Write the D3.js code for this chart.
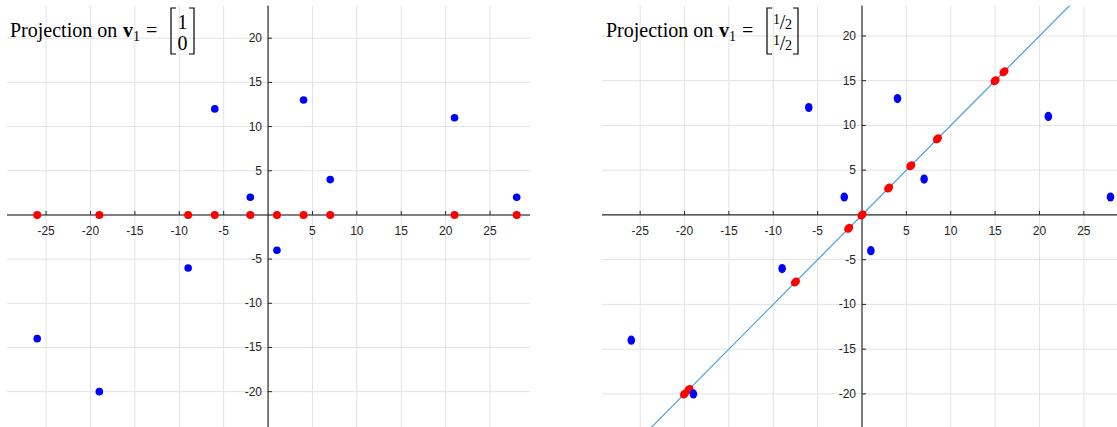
<!DOCTYPE html>
<html>
<head>
<meta charset="utf-8">
<script src="https://cdn.jsdelivr.net/npm/d3@7"></script>
<style>
  body { margin: 0; background: #fff; }
  svg { display: block; }
</style>
</head>
<body>
<div id="viz"></div>
<script>
// data
var pointsX = [-26, -19, -9, -6, -2, 1, 4, 7, 21, 28];
var pointsY = [-14, -20, -6, 12, 2, -4, 13, 4, 11, 2];

// projections on v1 = [1;0]
var projAX = [-26, -19, -9, -6, -2, 1, 4, 7, 21, 28];
var projAY = [0, 0, 0, 0, 0, 0, 0, 0, 0, 0];

// projections on v1 = [1/2;1/2]
var projBX = [-20, -19.5, -7.5, 3, 0, -1.5, 8.5, 5.5, 16, 15];
var projBY = [-20, -19.5, -7.5, 3, 0, -1.5, 8.5, 5.5, 16, 15];

// the span line of v1 in the second panel
var lineX = [-30, 30];
var lineY = [-30, 30];

var xTicks = [-25, -20, -15, -10, -5, 5, 10, 15, 20, 25];
var yTicks = [-20, -15, -10, -5, 5, 10, 15, 20];

var W = 1117, H = 427;
var svg = d3.select("#viz").append("svg")
  .attr("width", W).attr("height", H);

var tickFont = "'Liberation Sans', Arial, sans-serif";
var mathFont = "'Liberation Serif', 'DejaVu Serif', serif";

function drawPanel(p) {
  var x = d3.scaleLinear().domain(p.xDomain).range(p.xRange);
  var y = d3.scaleLinear().domain(p.yDomain).range(p.yRange);
  var g = svg.append("g");

  g.append("clipPath").attr("id", "clip" + p.id)
    .append("rect")
    .attr("x", p.xRange[0]).attr("y", p.yRange[1])
    .attr("width", p.xRange[1] - p.xRange[0])
    .attr("height", p.yRange[0] - p.yRange[1]);

  // grid
  g.selectAll(".vgrid").data(xTicks).join("line")
    .attr("x1", function(d) { return x(d); }).attr("x2", function(d) { return x(d); })
    .attr("y1", p.yRange[1]).attr("y2", p.yRange[0])
    .attr("stroke", "#e3e3e3").attr("stroke-width", 1);
  g.selectAll(".hgrid").data(yTicks).join("line")
    .attr("y1", function(d) { return y(d); }).attr("y2", function(d) { return y(d); })
    .attr("x1", p.xRange[0]).attr("x2", p.xRange[1])
    .attr("stroke", "#e3e3e3").attr("stroke-width", 1);

  // axes through the origin
  g.append("line")
    .attr("x1", p.xRange[0]).attr("x2", p.xRange[1])
    .attr("y1", y(0)).attr("y2", y(0))
    .attr("stroke", p.xAxisColor).attr("stroke-width", p.xAxisWidth);
  g.append("line")
    .attr("x1", x(0)).attr("x2", x(0))
    .attr("y1", p.yRange[1]).attr("y2", p.yRange[0])
    .attr("stroke", "#262626").attr("stroke-width", 1.2);

  // ticks
  g.selectAll(".xt").data(xTicks).join("line")
    .attr("x1", function(d) { return x(d); }).attr("x2", function(d) { return x(d); })
    .attr("y1", y(0)).attr("y2", y(0) - 4)
    .attr("stroke", "#262626");
  g.selectAll(".yt").data(yTicks).join("line")
    .attr("y1", function(d) { return y(d); }).attr("y2", function(d) { return y(d); })
    .attr("x1", x(0)).attr("x2", x(0) + 4)
    .attr("stroke", "#262626");

  g.selectAll(".xl").data(xTicks).join("text")
    .attr("x", function(d) { return x(d); })
    .attr("y", y(0) + 20)
    .attr("text-anchor", "middle")
    .style("font", "12px " + tickFont).attr("fill", "#262626")
    .text(function(d) { return d; });
  g.selectAll(".yl").data(yTicks).join("text")
    .attr("x", x(0) - 6)
    .attr("y", function(d) { return y(d) + 4; })
    .attr("text-anchor", "end")
    .style("font", "12px " + tickFont).attr("fill", "#262626")
    .text(function(d) { return d; });

  var plot = g.append("g").attr("clip-path", "url(#clip" + p.id + ")");

  if (p.line) {
    plot.append("path").datum(d3.range(p.line[0].length))
      .attr("fill", "none")
      .attr("stroke", "#4a9fd8")
      .attr("stroke-width", 1.2)
      .attr("d", d3.line()
        .x(function(i) { return x(p.line[0][i]); })
        .y(function(i) { return y(p.line[1][i]); }));
  }

  // red projections
  plot.selectAll(".proj").data(d3.range(p.projX.length)).join("ellipse")
    .attr("cx", function(i) { return x(p.projX[i]); })
    .attr("cy", function(i) { return y(p.projY[i]); })
    .attr("rx", p.redR[0]).attr("ry", p.redR[1])
    .attr("transform", function(i) {
      return p.redRot ? "rotate(" + p.redRot + "," + x(p.projX[i]) + "," + y(p.projY[i]) + ")" : null;
    })
    .attr("fill", "#ff0000");

  // blue original points
  plot.selectAll(".pt").data(d3.range(pointsX.length)).join("ellipse")
    .attr("cx", function(i) { return x(pointsX[i]); })
    .attr("cy", function(i) { return y(pointsY[i]); })
    .attr("rx", p.blueR[0]).attr("ry", p.blueR[1])
    .attr("fill", "#0000ff");

  // title: Projection on v1 = [a; b]
  var t = g.append("g").attr("transform", "translate(" + p.titleX + ",0)")
    .attr("fill", "#000");
  t.append("text").attr("x", 0).attr("y", 37)
    .style("font", "20px " + mathFont).text("Projection on");
  t.append("text").attr("x", 113).attr("y", 37)
    .style("font", "bold 20px " + mathFont).text("v");
  t.append("text").attr("x", 123).attr("y", 41)
    .style("font", "14px " + mathFont).text("1");
  t.append("text").attr("x", 136).attr("y", 37)
    .style("font", "20px " + mathFont).text("=");

  var bl = 161, br = p.bracketRight;
  t.append("path")
    .attr("d", "M" + (bl + 5) + ",8H" + bl + "V54H" + (bl + 5))
    .attr("fill", "none").attr("stroke", "#000").attr("stroke-width", 1.2);
  t.append("path")
    .attr("d", "M" + (br - 5) + ",8H" + br + "V54H" + (br - 5))
    .attr("fill", "none").attr("stroke", "#000").attr("stroke-width", 1.2);

  var cx = (bl + br) / 2;
  p.entries.forEach(function(e, k) {
    var base = k === 0 ? 29 : 50;
    if (e.length === 1) {
      t.append("text").attr("x", cx).attr("y", base).attr("text-anchor", "middle")
        .style("font", "20px " + mathFont).text(e[0]);
    } else {
      // nice fraction: raised numerator, slash, lowered denominator
      t.append("text").attr("x", cx - 6).attr("y", base - 5).attr("text-anchor", "middle")
        .style("font", "14px " + mathFont).text(e[0]);
      t.append("text").attr("x", cx).attr("y", base).attr("text-anchor", "middle")
        .style("font", "20px " + mathFont).text("/");
      t.append("text").attr("x", cx + 6).attr("y", base).attr("text-anchor", "middle")
        .style("font", "14px " + mathFont).text(e[1]);
    }
  });
}

drawPanel({
  id: "a",
  xDomain: [-29.4, 29.5], xRange: [7, 530],
  yDomain: [-24, 23.7], yRange: [427, 5.5],
  xAxisColor: "#808080", xAxisWidth: 2,
  projX: projAX, projY: projAY,
  redR: [4, 4], redRot: 0, blueR: [3.8, 3.8],
  titleX: 10, bracketRight: 184,
  entries: [["1"], ["0"]]
});

drawPanel({
  id: "b",
  xDomain: [-29.3, 29.3], xRange: [602, 1122],
  yDomain: [-23.7, 23.4], yRange: [427, 5.5],
  xAxisColor: "#262626", xAxisWidth: 1.2,
  line: [lineX, lineY],
  projX: projBX, projY: projBY,
  redR: [5, 4], redRot: -45, blueR: [3.8, 4.6],
  titleX: 606, bracketRight: 192,
  entries: [["1", "2"], ["1", "2"]]
});
</script>
</body>
</html>
